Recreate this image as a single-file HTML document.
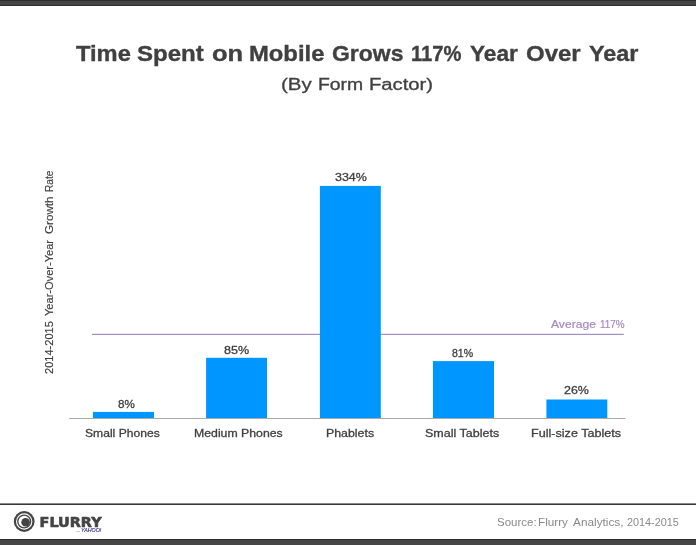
<!DOCTYPE html>
<html><head><meta charset="utf-8">
<style>
html,body{margin:0;padding:0;background:#fff;}
body{width:696px;height:545px;position:relative;overflow:hidden;font-family:"Liberation Sans",sans-serif;color:#3f3f3f;}
.abs{position:absolute;white-space:nowrap;transform-origin:0 0;}
.topbar{left:0;top:0;width:696px;height:6px;box-sizing:border-box;background:#454545;border-top:1px solid #2d2d2d;border-bottom:1px solid #2f2f2f;}
.botbar{left:0;top:539px;width:696px;height:6px;box-sizing:border-box;background:#454545;border-top:1px solid #2e2e2e;}
.footline{left:0;top:503px;width:696px;height:2px;background:linear-gradient(#8a8a8a 0,#8a8a8a 50%,#383838 50%,#383838 100%);}
.tw{font-weight:bold;font-size:22px;line-height:30px;color:#404040;-webkit-text-stroke:0.35px #404040;}
.sw{font-size:16px;line-height:24px;color:#404040;-webkit-text-stroke:0.3px #404040;}
.lab{font-size:11.3px;line-height:14px;color:#3f3f3f;-webkit-text-stroke:0.3px #3f3f3f;}
.avgt{font-size:11.3px;line-height:14px;color:#a688c4;-webkit-text-stroke:0.2px #a688c4;}
.src{font-size:11.3px;line-height:14px;color:#8a8a8a;}
.yl{font-size:10px;line-height:12px;color:#3f3f3f;-webkit-text-stroke:0.15px #3f3f3f;}
</style></head><body>
<div class="abs topbar"></div>
<div class="title"><span class="abs tw" style="left:75.70px;top:38.55px;transform:scaleX(1.0766)">Time</span> <span class="abs tw" style="left:136.95px;top:38.55px;transform:scaleX(1.0926)">Spent</span> <span class="abs tw" style="left:211.93px;top:38.55px;transform:scaleX(1.1600)">on</span> <span class="abs tw" style="left:248.65px;top:38.55px;transform:scaleX(1.0819)">Mobile</span> <span class="abs tw" style="left:331.72px;top:38.55px;transform:scaleX(1.0433)">Grows</span> <span class="abs tw" style="left:410.86px;top:38.55px;transform:scaleX(0.9159)">117%</span> <span class="abs tw" style="left:470.14px;top:38.55px;transform:scaleX(1.0304)">Year</span> <span class="abs tw" style="left:526.48px;top:38.55px;transform:scaleX(1.0904)">Over</span> <span class="abs tw" style="left:589.43px;top:38.55px;transform:scaleX(1.0630)">Year</span></div>
<div class="sub"><span class="abs sw" style="left:280.64px;top:72.90px;transform:scaleX(1.2817)">(By</span> <span class="abs sw" style="left:317.59px;top:72.90px;transform:scaleX(1.2113)">Form</span> <span class="abs sw" style="left:368.72px;top:72.90px;transform:scaleX(1.2639)">Factor)</span></div>
<div class="ylab"><span class="abs yl" style="left:44.30px;top:373.65px;transform:rotate(-90deg) scaleX(1.1064)">2014-2015</span> <span class="abs yl" style="left:44.30px;top:315.68px;transform:rotate(-90deg) scaleX(1.1051)">Year-Over-Year</span> <span class="abs yl" style="left:44.30px;top:234.38px;transform:rotate(-90deg) scaleX(1.1648)">Growth</span> <span class="abs yl" style="left:44.30px;top:191.56px;transform:rotate(-90deg) scaleX(1.0100)">Rate</span></div>

<svg class="abs" style="left:0;top:160px" width="696" height="270" viewBox="0 160 696 270">
  <rect x="92" y="333.8" width="531.8" height="1.1" fill="#9f82bd"/>
  <rect x="92.9" y="411.9" width="61.1" height="6.4" fill="#0096ff"/>
  <rect x="206.1" y="357.8" width="60.9" height="60.5" fill="#0096ff"/>
  <rect x="319.9" y="185.9" width="60.9" height="232.4" fill="#0096ff"/>
  <rect x="432.9" y="361.1" width="61.1" height="57.2" fill="#0096ff"/>
  <rect x="546.4" y="399.5" width="60.9" height="18.8" fill="#0096ff"/>
  <rect x="69.3" y="418" width="556.2" height="1" fill="#a9a9a9"/>
</svg>
<div class="avg"><span class="abs avgt" style="left:551.20px;top:316.80px;transform:scaleX(1.0723)">Average</span> <span class="abs avgt" style="left:599.64px;top:316.80px;transform:scaleX(0.8778)">117%</span></div>
<div class="vals"><span class="abs lab" style="left:118.14px;top:397.40px;transform:scaleX(1.0286)">8%</span> <span class="abs lab" style="left:223.92px;top:342.60px;transform:scaleX(1.1091)">85%</span> <span class="abs lab" style="left:334.72px;top:170.00px;transform:scaleX(1.1018)">334%</span> <span class="abs lab" style="left:452.17px;top:345.80px;transform:scaleX(0.9318)">81%</span> <span class="abs lab" style="left:563.55px;top:383.10px;transform:scaleX(1.0989)">26%</span></div>
<div class="labels"><span class="abs lab" style="left:85.33px;top:426.40px;transform:scaleX(1.0715)">Small Phones</span> <span class="abs lab" style="left:194.38px;top:426.40px;transform:scaleX(1.0873)">Medium Phones</span> <span class="abs lab" style="left:326.18px;top:426.40px;transform:scaleX(1.0930)">Phablets</span> <span class="abs lab" style="left:425.32px;top:426.40px;transform:scaleX(1.1068)">Small Tablets</span> <span class="abs lab" style="left:530.96px;top:426.40px;transform:scaleX(1.1160)">Full-size Tablets</span></div>

<div class="abs footline"></div>
<svg class="abs" style="left:0;top:505px" width="120" height="34" viewBox="0 505 120 34">
  <circle cx="24.2" cy="521.5" r="10.4" fill="#444"/>
  <circle cx="24.2" cy="521.5" r="7.65" fill="none" stroke="#fff" stroke-width="1.1"/>
  <circle cx="24.2" cy="521.5" r="5.7" fill="#fff"/>
  <circle cx="25.6" cy="522.3" r="4.3" fill="#444"/>
  <text x="39.6" y="526.6" font-family="DejaVu Sans, Liberation Sans, sans-serif" font-weight="bold" font-size="13.2" fill="#444" stroke="#444" stroke-width="0.6" stroke-linejoin="round" textLength="62" lengthAdjust="spacingAndGlyphs">FLURRY</text>
  <text x="75.8" y="532.2" font-family="Liberation Sans, sans-serif" font-size="2.4" fill="#7a7aa8" textLength="4.4" lengthAdjust="spacingAndGlyphs">from</text>
  <text x="81" y="532.4" font-family="Liberation Sans, sans-serif" font-style="italic" font-size="5.6" fill="#332e8e" stroke="#332e8e" stroke-width="0.15" textLength="20.2" lengthAdjust="spacingAndGlyphs">YAHOO!</text>
</svg>
<div class="srcw"><span class="abs src" style="left:497.29px;top:515.40px;transform:scaleX(1.0187)">Source:</span> <span class="abs src" style="left:538.36px;top:515.40px;transform:scaleX(1.0378)">Flurry</span> <span class="abs src" style="left:572.80px;top:515.40px;transform:scaleX(1.0455)">Analytics,</span> <span class="abs src" style="left:626.92px;top:515.40px;transform:scaleX(0.9585)">2014-2015</span></div>
<div class="abs botbar"></div>
</body></html>
